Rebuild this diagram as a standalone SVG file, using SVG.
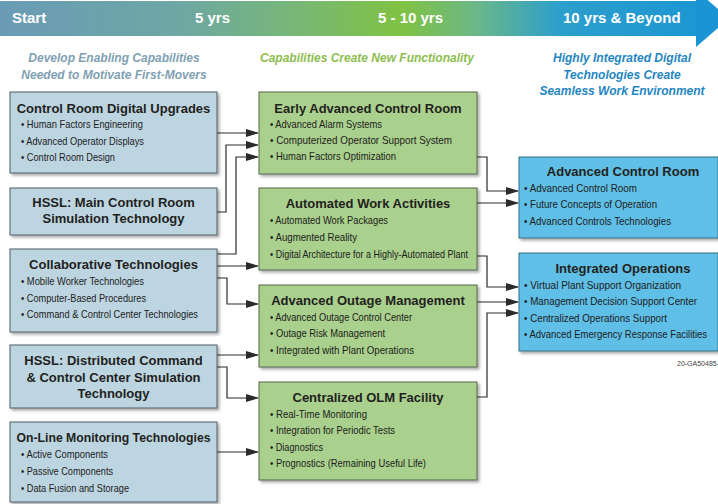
<svg xmlns="http://www.w3.org/2000/svg" width="718" height="504" viewBox="0 0 718 504">
<defs>
  <linearGradient id="band" x1="0" y1="0" x2="718" y2="0" gradientUnits="userSpaceOnUse">
    <stop offset="0" stop-color="#6a9bb6"/>
    <stop offset="0.25" stop-color="#6ea7a4"/>
    <stop offset="0.42" stop-color="#78b874"/>
    <stop offset="0.56" stop-color="#80c242"/>
    <stop offset="0.66" stop-color="#6cb886"/>
    <stop offset="0.78" stop-color="#2c9fcc"/>
    <stop offset="1" stop-color="#1a95d3"/>
  </linearGradient>
  <filter id="sh" x="-10%" y="-10%" width="130%" height="130%">
    <feDropShadow dx="2" dy="2" stdDeviation="1.6" flood-color="#000" flood-opacity="0.35"/>
  </filter>
  <marker id="ah" markerWidth="13" markerHeight="9" refX="12" refY="4" orient="auto" markerUnits="userSpaceOnUse">
    <path d="M0,0 L13,4 L0,8 z" fill="#2b2b2b"/>
  </marker>
</defs>
<style>
  .bl { fill:#bcd5e1; stroke:#4f5f66; stroke-width:1; filter:url(#sh); }
  .gr { fill:#a9d08d; stroke:#56664a; stroke-width:1; filter:url(#sh); }
  .bu { fill:#5ebfe6; stroke:#3b6f86; stroke-width:1; filter:url(#sh); }
  .t { font-family:"Liberation Sans", Arial, sans-serif; font-weight:bold; font-size:13px; fill:#231f20; text-anchor:middle; }
  .b { font-family:"Liberation Sans", Arial, sans-serif; font-size:11.5px; fill:#1e1c1c; }
  .hd { font-family:"Liberation Sans", Arial, sans-serif; font-weight:bold; font-size:15px; fill:#ffffff; }
  .sub { font-family:"Liberation Sans", Arial, sans-serif; font-weight:bold; font-style:italic; font-size:12px; text-anchor:middle; }
  .conn path { fill:none; stroke:#2b2b2b; stroke-width:1.2; marker-end:url(#ah); }
</style>
<rect width="718" height="504" fill="#ffffff"/>

<g id="banner">
  <rect x="0" y="1" width="700" height="35" fill="url(#band)"/>
  <polygon points="696,-10 729,18.5 696,47" fill="#1a95d3"/>
  <text class="hd" x="12" y="23">Start</text>
  <text class="hd" x="195" y="23">5 yrs</text>
  <text class="hd" x="378" y="23">5 - 10 yrs</text>
  <text class="hd" x="563" y="23">10 yrs &amp; Beyond</text>
</g>

<g id="subtitles">
  <text class="sub" x="114" y="62" fill="#7f9fb2">Develop Enabling Capabilities</text>
  <text class="sub" x="114" y="79" fill="#7f9fb2">Needed to Motivate First-Movers</text>
  <text class="sub" x="367" y="62" fill="#8dbd4f">Capabilities Create New Functionality</text>
  <text class="sub" x="622" y="62" fill="#1f86c2">Highly Integrated Digital</text>
  <text class="sub" x="622" y="79" fill="#1f86c2">Technologies Create</text>
  <text class="sub" x="622" y="95" fill="#1f86c2">Seamless Work Environment</text>
</g>

<g class="conn" id="connectors">
  <path d="M217,133 H258"/>
  <path d="M217,212 H226 V145 H258"/>
  <path d="M217,254 H236 V157 H258"/>
  <path d="M217,266 H258"/>
  <path d="M217,278 H227 V304 H258"/>
  <path d="M217,355 H258"/>
  <path d="M217,367 H227 V398 H258"/>
  <path d="M217,452 H258"/>
  <path d="M477,157 H487 V191 H518"/>
  <path d="M477,203 H518"/>
  <path d="M477,256 H487 V287 H518"/>
  <path d="M477,302 H518"/>
  <path d="M477,397 H487 V313 H518"/>
</g>

<g id="crdu">
  <rect class="bl" x="10" y="92" width="207" height="81"/>
  <text class="t" x="113.5" y="113">Control Room Digital Upgrades</text>
  <text class="b" x="21" y="128" textLength="122" lengthAdjust="spacingAndGlyphs">• Human Factors Engineering</text>
  <text class="b" x="21" y="145" textLength="123" lengthAdjust="spacingAndGlyphs">• Advanced Operator Displays</text>
  <text class="b" x="21" y="161" textLength="94" lengthAdjust="spacingAndGlyphs">• Control Room Design</text>
</g>

<g id="hssl-main">
  <rect class="bl" x="10" y="188" width="207" height="47"/>
  <text class="t" x="113.5" y="207">HSSL: Main Control Room</text>
  <text class="t" x="113.5" y="223">Simulation Technology</text>
</g>

<g id="collab">
  <rect class="bl" x="10" y="249" width="207" height="83"/>
  <text class="t" x="113.5" y="269">Collaborative Technologies</text>
  <text class="b" x="21" y="285" textLength="123" lengthAdjust="spacingAndGlyphs">• Mobile Worker Technologies</text>
  <text class="b" x="21" y="302" textLength="125" lengthAdjust="spacingAndGlyphs">• Computer-Based Procedures</text>
  <text class="b" x="21" y="318" textLength="177" lengthAdjust="spacingAndGlyphs">• Command &amp; Control Center Technologies</text>
</g>

<g id="hssl-dist">
  <rect class="bl" x="10" y="345" width="207" height="63"/>
  <text class="t" x="113.5" y="365">HSSL: Distributed Command</text>
  <text class="t" x="113.5" y="382">&amp; Control Center Simulation</text>
  <text class="t" x="113.5" y="398">Technology</text>
</g>

<g id="olm-tech">
  <rect class="bl" x="10" y="422" width="207" height="80"/>
  <text class="t" x="113.5" y="442" textLength="194" lengthAdjust="spacingAndGlyphs">On-Line Monitoring Technologies</text>
  <text class="b" x="21" y="458" textLength="87" lengthAdjust="spacingAndGlyphs">• Active Components</text>
  <text class="b" x="21" y="475" textLength="92" lengthAdjust="spacingAndGlyphs">• Passive Components</text>
  <text class="b" x="21" y="492" textLength="108" lengthAdjust="spacingAndGlyphs">• Data Fusion and Storage</text>
</g>

<g id="early-acr">
  <rect class="gr" x="259" y="92" width="218" height="82"/>
  <text class="t" x="368" y="113">Early Advanced Control Room</text>
  <text class="b" x="270" y="128" textLength="112" lengthAdjust="spacingAndGlyphs">• Advanced Alarm Systems</text>
  <text class="b" x="270" y="144" textLength="182" lengthAdjust="spacingAndGlyphs">• Computerized Operator Support System</text>
  <text class="b" x="270" y="160" textLength="126" lengthAdjust="spacingAndGlyphs">• Human Factors Optimization</text>
</g>

<g id="auto-work">
  <rect class="gr" x="259" y="188" width="218" height="82"/>
  <text class="t" x="368" y="208">Automated Work Activities</text>
  <text class="b" x="270" y="224" textLength="118" lengthAdjust="spacingAndGlyphs">• Automated Work Packages</text>
  <text class="b" x="270" y="241" textLength="87" lengthAdjust="spacingAndGlyphs">• Augmented Reality</text>
  <text class="b" x="270" y="258" textLength="198" lengthAdjust="spacingAndGlyphs">• Digital Architecture for a Highly-Automated Plant</text>
</g>

<g id="outage">
  <rect class="gr" x="259" y="285" width="218" height="82"/>
  <text class="t" x="368" y="305">Advanced Outage Management</text>
  <text class="b" x="270" y="321" textLength="142" lengthAdjust="spacingAndGlyphs">• Advanced Outage Control Center</text>
  <text class="b" x="270" y="337" textLength="115" lengthAdjust="spacingAndGlyphs">• Outage Risk Management</text>
  <text class="b" x="270" y="354" textLength="144" lengthAdjust="spacingAndGlyphs">• Integrated with Plant Operations</text>
</g>

<g id="olm-facility">
  <rect class="gr" x="259" y="382" width="218" height="98"/>
  <text class="t" x="368" y="402">Centralized OLM Facility</text>
  <text class="b" x="270" y="418" textLength="97" lengthAdjust="spacingAndGlyphs">• Real-Time Monitoring</text>
  <text class="b" x="270" y="434" textLength="125" lengthAdjust="spacingAndGlyphs">• Integration for Periodic Tests</text>
  <text class="b" x="270" y="451" textLength="53" lengthAdjust="spacingAndGlyphs">• Diagnostics</text>
  <text class="b" x="270" y="467" textLength="156" lengthAdjust="spacingAndGlyphs">• Prognostics (Remaining Useful Life)</text>
</g>

<g id="acr">
  <rect class="bu" x="519" y="157" width="199" height="81"/>
  <text class="t" x="623" y="176">Advanced Control Room</text>
  <text class="b" x="524" y="192" textLength="113" lengthAdjust="spacingAndGlyphs">• Advanced Control Room</text>
  <text class="b" x="524" y="208" textLength="133" lengthAdjust="spacingAndGlyphs">• Future Concepts of Operation</text>
  <text class="b" x="524" y="225" textLength="147" lengthAdjust="spacingAndGlyphs">• Advanced Controls Technologies</text>
</g>

<g id="int-ops">
  <rect class="bu" x="519" y="253" width="199" height="98"/>
  <text class="t" x="623" y="273">Integrated Operations</text>
  <text class="b" x="524" y="289" textLength="157" lengthAdjust="spacingAndGlyphs">• Virtual Plant Support Organization</text>
  <text class="b" x="524" y="305" textLength="173" lengthAdjust="spacingAndGlyphs">• Management Decision Support Center</text>
  <text class="b" x="524" y="322" textLength="143" lengthAdjust="spacingAndGlyphs">• Centralized Operations Support</text>
  <text class="b" x="524" y="338" textLength="183" lengthAdjust="spacingAndGlyphs">• Advanced Emergency Response Facilities</text>
</g>

<text x="677" y="366" font-family="Liberation Sans, Arial, sans-serif" font-size="7" fill="#444444">20-GA50485-</text>
</svg>
